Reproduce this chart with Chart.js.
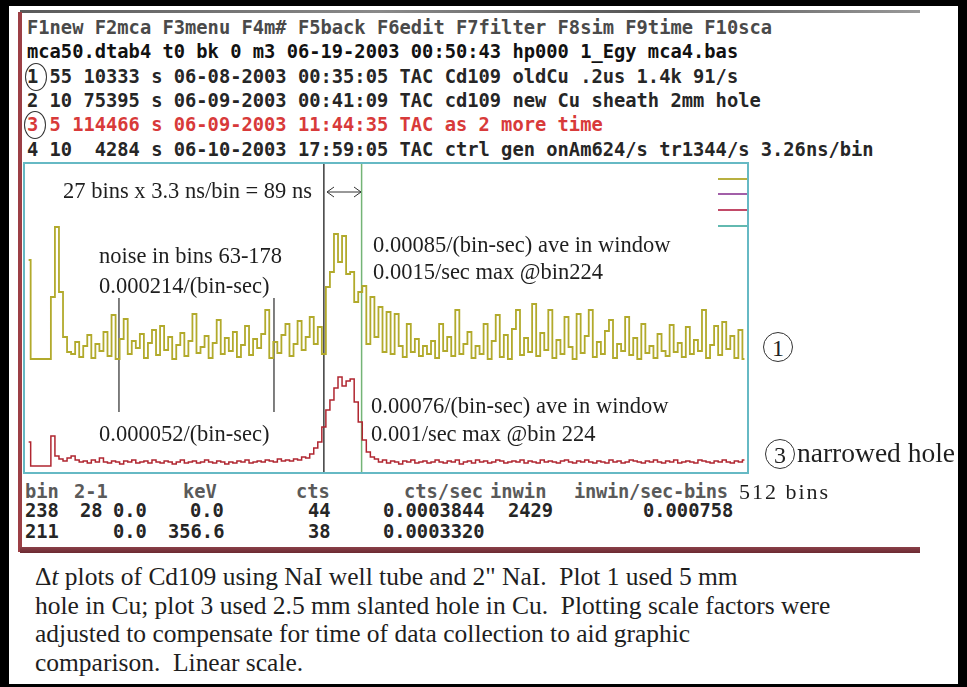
<!DOCTYPE html>
<html>
<head>
<meta charset="utf-8">
<script src="https://cdn.jsdelivr.net/npm/chart.js@4/dist/chart.umd.min.js"></script>
<style>
  html, body { margin: 0; padding: 0; }
  body { width: 967px; height: 687px; background: #000; position: relative; overflow: hidden; }
  .sheet { position: absolute; left: 9px; top: 6px; width: 949px; height: 678px; background: #fff; }
  .abs { position: absolute; white-space: pre; }
  .topline { position: absolute; left: 20px; top: 10px; width: 900px; height: 3px;
             background: linear-gradient(90deg, #5a5a5a, #8a8a8a 40%, #555 70%, #999); }
  .leftline { position: absolute; left: 18px; top: 12px; width: 4px; height: 540px; background: #9c3f45; }
  .bottombar { position: absolute; left: 20px; top: 547px; width: 900px; height: 6px;
               background: linear-gradient(180deg, #8a4048, #6b2a32); }
  .mono { font-family: "DejaVu Sans Mono", monospace; font-size: 18.75px; font-weight: bold; line-height: 20px; color: #262626; }
  .serif { font-family: "Liberation Serif", serif; color: #1e1e1e; line-height: 1; }
  .ann { font-size: 22.5px; }
  #plotbox { position: absolute; left: 23px; top: 162px; width: 722px; height: 308px; border: 2px solid #66b9c4; }
  #chart { display: block; }
  .key { position: absolute; left: 718px; width: 29px; height: 2px; }
  .ring { position: absolute; border: 1.3px solid #333; border-radius: 50%; box-sizing: border-box; }
  .ringtxt { font-family: "Liberation Serif", serif; font-size: 24px; color: #222; text-align: center; line-height: 30px; }
  .cap { font-family: "Liberation Serif", serif; font-size: 26px; color: #1e1e1e; line-height: 1;
         transform: scaleX(0.98); transform-origin: left center; }
</style>
</head>
<body>
<div class="sheet"></div>
<div class="topline"></div>
<div class="leftline"></div>
<div class="bottombar"></div>

<!-- program header -->
<div class="abs mono" style="left:27px; top:18px; color:#4a4a4a;">F1new F2mca F3menu F4m# F5back F6edit F7filter F8sim F9time F10sca</div>
<div class="abs mono" style="left:27px; top:42px; color:#111;">mca50.dtab4 t0 bk 0 m3 06-19-2003 00:50:43 hp000 1_Egy mca4.bas</div>
<div class="abs mono" style="left:27px; top:67px;">1 55 10333 s 06-08-2003 00:35:05 TAC Cd109 oldCu .2us 1.4k 91/s</div>
<div class="abs mono" style="left:27px; top:91px;">2 10 75395 s 06-09-2003 00:41:09 TAC cd109 new Cu sheath 2mm hole</div>
<div class="abs mono" style="left:27px; top:115px; color:#d83a3a;">3 5 114466 s 06-09-2003 11:44:35 TAC as 2 more time</div>
<div class="abs mono" style="left:27px; top:140px;">4 10  4284 s 06-10-2003 17:59:05 TAC ctrl gen onAm624/s tr1344/s 3.26ns/bin</div>
<div class="ring" style="left:25px; top:63px; width:22px; height:28px;"></div>
<div class="ring" style="left:24px; top:111px; width:22px; height:28px;"></div>

<!-- plot -->
<div id="plotbox"><canvas id="chart" width="722" height="308"></canvas></div>

<div class="key" style="top:178px; background:#b8b040;"></div>
<div class="key" style="top:193px; background:#a25fa8;"></div>
<div class="key" style="top:209px; background:#c24a68;"></div>
<div class="key" style="top:225px; background:#62b9b0;"></div>

<div class="abs serif ann" style="left:63px; top:180px;">27 bins x 3.3 ns/bin = 89 ns</div>
<svg class="abs" style="left:325px; top:185px;" width="38" height="14">
  <g stroke="#333" stroke-width="1" fill="none">
    <line x1="2" y1="7" x2="36" y2="7"/>
    <polyline points="9,2 2,7 9,12"/>
    <polyline points="29,2 36,7 29,12"/>
  </g>
</svg>
<div class="abs serif ann" style="left:99px; top:245px;">noise in bins 63-178</div>
<div class="abs serif ann" style="left:99px; top:275px;">0.000214/(bin-sec)</div>
<div class="abs serif ann" style="left:373px; top:234px;">0.00085/(bin-sec) ave in window</div>
<div class="abs serif ann" style="left:373px; top:261px;">0.0015/sec max @bin224</div>
<div class="abs serif ann" style="left:99px; top:423px;">0.000052/(bin-sec)</div>
<div class="abs serif ann" style="left:371px; top:395px;">0.00076/(bin-sec) ave in window</div>
<div class="abs serif ann" style="left:371px; top:423px;">0.001/sec max @bin 224</div>

<div class="ring ringtxt" style="left:763px; top:332px; width:30px; height:30px;">1</div>
<div class="ring ringtxt" style="left:765px; top:439px; width:30px; height:30px;">3</div>
<div class="abs serif" style="left:797px; top:439px; font-size:27.5px;">narrowed hole</div>
<div class="abs serif" style="left:739px; top:481px; font-size:22px; letter-spacing:2px;">512 bins</div>

<!-- readout table -->
<div class="abs mono" style="left:25px; top:482px; color:#5a5a5a;">bin</div>
<div class="abs mono" style="left:74px; top:482px; color:#5a5a5a;">2-1</div>
<div class="abs mono" style="left:183px; top:482px; color:#5a5a5a;">keV</div>
<div class="abs mono" style="left:296px; top:482px; color:#5a5a5a;">cts</div>
<div class="abs mono" style="left:404px; top:482px; color:#5a5a5a;">cts/sec</div>
<div class="abs mono" style="left:490px; top:482px; color:#5a5a5a;">inwin</div>
<div class="abs mono" style="left:574px; top:482px; color:#5a5a5a; letter-spacing:-0.3px;">inwin/sec-bins</div>

<div class="abs mono" style="left:25px; top:501px;">238</div>
<div class="abs mono" style="left:80px; top:501px;">28</div>
<div class="abs mono" style="left:113px; top:501px;">0.0</div>
<div class="abs mono" style="left:190px; top:501px;">0.0</div>
<div class="abs mono" style="left:308px; top:501px;">44</div>
<div class="abs mono" style="left:383px; top:501px;">0.0003844</div>
<div class="abs mono" style="left:508px; top:501px;">2429</div>
<div class="abs mono" style="left:643px; top:501px;">0.000758</div>

<div class="abs mono" style="left:25px; top:522px;">211</div>
<div class="abs mono" style="left:113px; top:522px;">0.0</div>
<div class="abs mono" style="left:168px; top:522px;">356.6</div>
<div class="abs mono" style="left:308px; top:522px;">38</div>
<div class="abs mono" style="left:383px; top:522px;">0.0003320</div>

<!-- caption -->
<div class="abs cap" style="left:35px; top:564px;">Δ<i>t</i> plots of Cd109 using NaI well tube and 2" NaI.  Plot 1 used 5 mm</div>
<div class="abs cap" style="left:35px; top:593px;">hole in Cu; plot 3 used 2.5 mm slanted hole in Cu.  Plotting scale factors were</div>
<div class="abs cap" style="left:35px; top:621px;">adjusted to compensate for time of data collection to aid graphic</div>
<div class="abs cap" style="left:35px; top:650px;">comparison.  Linear scale.</div>

<script>
// bins of the first sample and spacing between samples
const firstBin = -4;
const binStep = 3;

// plot 1 (5 mm hole, old Cu), scaled counts
const plot1 = [
  212, 113, 113, 113, 113, 113, 175, 245, 180, 135, 120,
  118, 130, 115, 126, 137, 114, 128, 121, 140, 116,
  157, 113, 133, 153, 118, 131, 124, 138, 114, 129,
  142, 117, 146, 122, 135, 113, 127, 139, 116, 131,
  158, 119, 125, 136, 114, 129, 152, 118, 134, 121,
  140, 115, 127, 146, 117, 133, 124, 138, 162, 114,
  130, 119, 137, 148, 116, 128, 151, 122, 135, 155,
  128, 145, 118, 185, 200, 238, 210, 236, 198, 200,
  170, 180, 186, 128, 175, 135, 165, 120, 160, 118,
  158, 126, 115, 148, 120, 133, 116, 126, 118, 131,
  114, 148, 121, 135, 116, 162, 118, 128, 140, 114,
  126, 118, 148, 113, 131, 157, 115, 137, 113, 143,
  162, 117, 134, 120, 168, 116, 139, 122, 162, 114,
  132, 118, 155, 125, 113, 158, 119, 136, 162, 115,
  130, 118, 141, 152, 114, 128, 121, 155, 117, 134,
  113, 148, 119, 126, 114, 138, 121, 116, 147, 120,
  129, 115, 145, 118, 132, 121, 162, 114, 127, 146,
  117, 150, 123, 136, 114, 142, 113
];

// plot 3 (2.5 mm slanted hole), scaled counts
const plot3 = [
  30, 6, 6, 6, 6, 6, 36, 16, 13, 11, 14,
  16, 12, 10, 11, 9, 12, 10, 14, 10, 9,
  11, 10, 8, 11, 10, 12, 9, 10, 11, 9,
  12, 10, 9, 11, 10, 8, 10, 12, 9, 10,
  11, 9, 10, 12, 10, 9, 11, 10, 8, 10,
  9, 11, 10, 12, 9, 10, 11, 10, 12, 11,
  10, 13, 11, 12, 11, 13, 12, 15, 14, 18,
  24, 30, 45, 62, 72, 84, 95, 86, 91, 93,
  70, 50, 32, 20, 15, 13, 10, 12, 9, 11,
  10, 8, 11, 10, 12, 9, 10, 11, 9, 10,
  12, 10, 9, 11, 10, 12, 8, 10, 11, 9,
  12, 10, 11, 9, 10, 12, 11, 9, 10, 11,
  10, 12, 9, 11, 10, 9, 12, 10, 11, 10,
  9, 11, 12, 10, 9, 11, 10, 12, 10, 9,
  11, 10, 9, 12, 10, 11, 9, 10, 12, 11,
  10, 9, 11, 10, 12, 10, 9, 11, 10, 12,
  9, 10, 11, 10, 9, 12, 11, 10, 9, 11,
  10, 12, 10, 9, 11, 10, 12
];

// marker positions (bins)
const noiseBins = [63, 178];
const windowBins = [215, 243];
const noiseMarkLow = 60;
const noiseMarkHigh = 174;

const yMax = 308;

const toPoints = (vals) => vals.map((v, i) => ({ x: firstBin + i * binStep, y: v }));
const vline = (bin, lo, hi) => [{ x: bin, y: lo }, { x: bin, y: hi }];

const ctx = document.getElementById('chart').getContext('2d');
new Chart(ctx, {
  type: 'line',
  data: {
    datasets: [
      { label: 'plot 1', data: toPoints(plot1), borderColor: '#b2aa2c', borderWidth: 1.8, stepped: 'middle' },
      { label: 'plot 3', data: toPoints(plot3), borderColor: '#b02630', borderWidth: 1.5, stepped: 'middle' },
      { label: 'window start', data: vline(windowBins[0], 0, yMax), borderColor: '#3c3c3c', borderWidth: 1.5 },
      { label: 'window end', data: vline(windowBins[1], 0, yMax), borderColor: '#74b476', borderWidth: 1.5 },
      { label: 'noise lo', data: vline(noiseBins[0], noiseMarkLow, noiseMarkHigh), borderColor: '#555', borderWidth: 1.5 },
      { label: 'noise hi', data: vline(noiseBins[1], noiseMarkLow, noiseMarkHigh), borderColor: '#555', borderWidth: 1.5 }
    ]
  },
  options: {
    responsive: false,
    animation: false,
    layout: { padding: 0 },
    elements: { point: { radius: 0 }, line: { tension: 0 } },
    plugins: { legend: { display: false }, tooltip: { enabled: false } },
    scales: {
      x: { type: 'linear', min: -6.7, max: 528.9, display: false },
      y: { type: 'linear', min: 0, max: yMax, display: false }
    }
  }
});
</script>
</body>
</html>
